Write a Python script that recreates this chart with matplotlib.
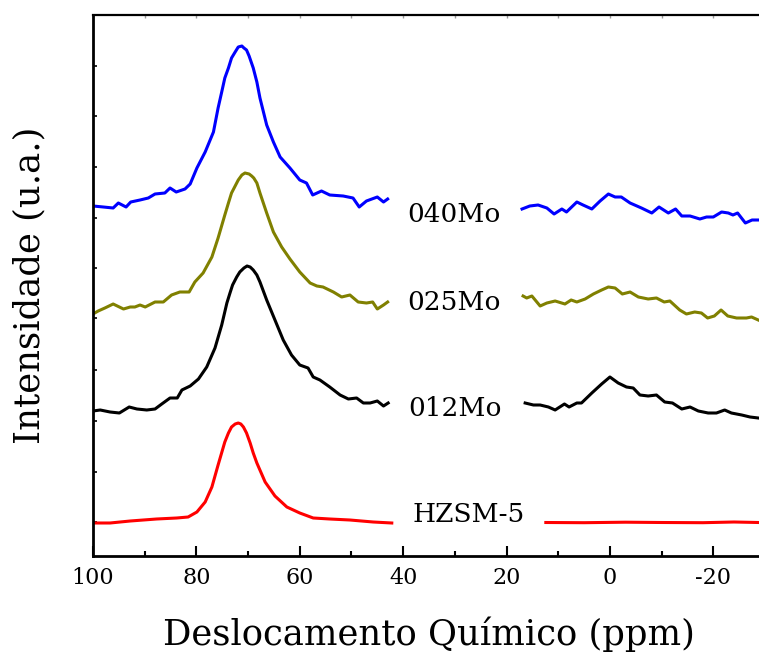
import matplotlib

matplotlib.use("Agg")
import matplotlib.pyplot as plt
import numpy as np

# ---------------------------------------------------------------------------
# Spectra (ppm, intensity in a.u. incl. vertical offset).
# Each sample has two segments: the gap in the middle holds its label.
# ---------------------------------------------------------------------------

mo040_ppm_l = [100.0, 98.0, 96.1, 95.1, 93.6, 92.7, 90.9, 89.3, 88.0, 86.1, 85.1, 83.9,
               82.2, 81.2, 79.9, 78.3, 76.7, 75.8, 75.1, 74.5, 73.8, 73.2, 72.5, 71.9,
               71.2, 70.8, 70.3, 69.8, 69.0, 68.3, 67.7, 66.4, 65.1, 63.8, 61.9, 60.0,
               58.7, 57.5, 55.8, 54.2, 51.6, 49.7, 48.5, 47.1, 45.0, 43.8, 43.0]
mo040_int_l = [350, 349, 348, 353, 349, 354, 356, 358, 362, 363, 368, 364,
               367, 372, 388, 404, 424, 448, 464, 478, 488, 498, 504, 509,
               510, 508, 506, 500, 488, 474, 458, 431, 414, 399, 388, 376,
               373, 361, 365, 361, 360, 358, 349, 355, 359, 354, 357]
mo040_ppm_r = [17.0, 15.5, 13.9, 12.2, 10.8, 9.3, 8.4, 6.4, 5.2, 3.5, 1.9, 0.3, -1.0,
               -2.2, -3.9, -6.1, -8.1, -9.5, -11.3, -12.7, -13.9, -15.5, -17.4, -18.7,
               -20.0, -21.6, -22.9, -23.8, -24.7, -26.2, -27.5, -28.7]
mo040_int_r = [347, 350, 351, 348, 342, 347, 344, 354, 351, 347, 355, 362, 359,
               359, 353, 348, 343, 349, 343, 347, 340, 340, 337, 339,
               339, 344, 343, 341, 343, 333, 336, 336]

mo025_ppm_l = [100.0, 99.0, 97.7, 96.1, 94.1, 92.8, 91.9, 90.9, 89.9, 88.0, 86.4, 84.8,
               83.2, 81.4, 80.3, 78.7, 77.0, 75.8, 74.5, 73.8, 73.2, 72.5, 71.9, 71.2,
               70.6, 69.8, 69.3, 68.9, 68.3, 67.7, 66.4, 65.1, 63.5, 61.9, 60.0, 58.0,
               56.7, 55.5, 53.5, 51.9, 50.3, 48.7, 47.1, 45.9, 45.0, 43.8, 43.0]
mo025_int_l = [242, 245, 248, 252, 247, 249, 249, 251, 249, 254, 254, 261,
               264, 264, 274, 283, 299, 318, 341, 353, 363, 370, 376, 381,
               383, 382, 380, 378, 373, 363, 343, 324, 309, 297, 284, 273,
               270, 269, 264, 259, 261, 254, 253, 254, 247, 251, 254]
mo025_ppm_r = [16.8, 16.1, 15.1, 13.5, 12.2, 10.6, 8.7, 7.5, 6.4, 4.8, 3.2, 1.6, 0.3,
               -1.0, -2.4, -3.9, -5.5, -7.4, -9.0, -10.5, -11.6, -13.5, -14.8, -16.4,
               -17.7, -18.9, -20.2, -21.5, -22.8, -24.5, -26.4, -27.4, -28.7]
mo025_int_r = [260, 258, 260, 250, 253, 255, 252, 256, 254, 257, 262, 266, 269,
               268, 262, 264, 259, 257, 258, 254, 255, 246, 242, 244,
               243, 238, 240, 246, 240, 238, 238, 239, 236]

mo012_ppm_l = [100.0, 98.6, 96.7, 94.9, 93.0, 91.5, 89.6, 88.0, 86.7, 85.1, 83.7, 82.8,
               81.2, 79.6, 78.0, 76.4, 75.1, 74.1, 73.5, 73.0, 72.2, 71.6, 70.8, 70.2,
               69.6, 69.0, 68.3, 67.7, 66.4, 64.8, 63.2, 61.6, 60.0, 58.4, 57.4, 56.1,
               54.2, 52.2, 50.6, 49.0, 47.7, 46.4, 45.0, 43.8, 42.9]
mo012_int_l = [145, 146, 144, 143, 149, 147, 146, 147, 152, 158, 158, 166,
               170, 177, 189, 208, 231, 253, 263, 271, 279, 284, 288, 290,
               289, 286, 281, 274, 256, 236, 216, 201, 191, 188, 179, 176,
               169, 161, 157, 158, 153, 153, 155, 150, 153]
mo012_ppm_r = [16.4, 14.8, 13.5, 11.9, 10.6, 8.8, 7.9, 6.4, 5.5, 3.5, 1.6, 0.0, -1.6,
               -3.2, -4.5, -5.8, -7.4, -9.0, -10.6, -12.1, -13.9, -15.5, -17.1, -19.0,
               -20.6, -22.2, -23.5, -25.5, -27.1, -28.7]
mo012_int_r = [153, 151, 151, 149, 146, 152, 149, 153, 153, 163, 172, 179, 173,
               169, 168, 161, 160, 161, 154, 153, 147, 149, 145, 143,
               143, 146, 143, 141, 139, 138]

hzsm_ppm_l = [100.0, 96.7, 92.8, 87.7, 83.8, 81.6, 79.9, 78.3, 77.0, 75.8, 74.5, 73.8,
              73.2, 72.5, 71.9, 71.4, 70.9, 70.3, 69.6, 69.0, 68.3, 66.7, 64.8, 62.5,
              60.0, 57.4, 54.2, 50.3, 45.8, 42.2]
hzsm_int_l = [33, 33, 35, 37, 38, 39, 44, 54, 69, 91, 114, 123,
              129, 132, 133, 132, 129, 123, 113, 103, 93, 74, 60, 49,
              43, 38, 37, 36, 34, 33]
hzsm_ppm_r = [12.4, 5.0, -3.0, -10.0, -18.0, -24.0, -28.7]
hzsm_int_r = [33.5, 33.3, 33.8, 33.5, 33.3, 34.0, 33.5]

labels = ["040Mo", "025Mo", "012Mo", "HZSM-5"]
label_ppm = [30.2, 30.2, 29.9, 27.3]
label_int = [341, 253, 147, 41]
colors = ["#0000ff", "#808000", "#000000", "#ff0000"]

ytick_pos = [34, 84, 135, 186, 238, 288, 338, 389, 440, 490]

FONT = "DejaVu Serif"

fig = plt.figure(figsize=(7.59, 6.57), dpi=100)
ax = fig.add_axes([93 / 759, 101 / 657, 672 / 759, 541 / 657])

series = [
    (mo040_ppm_l, mo040_int_l, mo040_ppm_r, mo040_int_r),
    (mo025_ppm_l, mo025_int_l, mo025_ppm_r, mo025_int_r),
    (mo012_ppm_l, mo012_int_l, mo012_ppm_r, mo012_int_r),
    (hzsm_ppm_l, hzsm_int_l, hzsm_ppm_r, hzsm_int_r),
]
for (xl, yl, xr, yr), c in zip(series, colors):
    ax.plot(xl, yl, color=c, lw=2.2, solid_joinstyle="round")
    ax.plot(xr, yr, color=c, lw=2.2, solid_joinstyle="round")

for text, x, y in zip(labels, label_ppm, label_int):
    ax.text(x, y, text, ha="center", va="center", fontsize=19, family=FONT)

ax.set_xlim(100, -30)
ax.set_ylim(0, 541)
ax.set_xticks(np.arange(100, -30, -20))
ax.set_xticks(np.arange(100, -30, -10), minor=True)
ax.set_xticklabels([f"{v:d}" for v in range(100, -30, -20)], family=FONT, fontsize=16)
ax.set_yticks(ytick_pos)
ax.set_yticklabels([])
ax.tick_params(axis="x", which="major", direction="in", length=7, width=1.5, pad=8)
ax.tick_params(axis="x", which="minor", direction="in", length=3.5, width=1.5)
ax.tick_params(axis="y", direction="in", length=3, width=1.2)

top = ax.secondary_xaxis("top")
top.set_xticks(np.arange(100, -30, -10))
top.set_xticklabels([])
top.tick_params(direction="in", length=2.5, width=1, color="0.6")

for side in ("left", "bottom"):
    ax.spines[side].set_linewidth(2)
ax.spines["top"].set_linewidth(1.6)
ax.spines["right"].set_visible(False)
top.spines["top"].set_visible(False)

ax.set_xlabel("Deslocamento Químico (ppm)", family=FONT, fontsize=25.5, labelpad=20)
ax.set_ylabel("Intensidade (u.a.)", family=FONT, fontsize=25.5, labelpad=30)

fig.savefig("out.png", dpi=100)
